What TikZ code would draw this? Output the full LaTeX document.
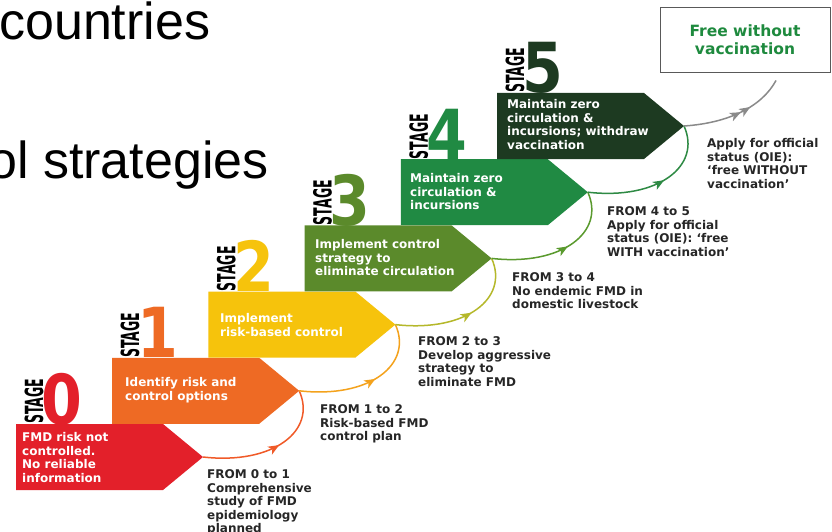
\documentclass[tikz,border=0pt]{standalone}
\usepackage{fontspec}
\setmainfont{DejaVu Sans}
\newfontfamily\slidefont{Liberation Sans}
\usetikzlibrary{calc, arrows.meta, decorations.markings}

\definecolor{stagezero}{HTML}{E3202A}
\definecolor{stageone}{HTML}{EE6A24}
\definecolor{stagetwo}{HTML}{F6C30C}
\definecolor{stagethree}{HTML}{5B8A2B}
\definecolor{stagefour}{HTML}{208A43}
\definecolor{stagefive}{HTML}{1D3A21}
\definecolor{flowzero}{HTML}{F05A28}
\definecolor{flowone}{HTML}{F4A21C}
\definecolor{flowtwo}{HTML}{B5B82A}
\definecolor{flowthree}{HTML}{5A9A2E}
\definecolor{flowfour}{HTML}{2E8A44}
\definecolor{flowfive}{HTML}{8A8A8A}
\definecolor{freegreen}{HTML}{1E8A3E}

\tikzset{
  boxtext/.style={anchor=north west, inner sep=0pt, align=left, text=white,
    font=\bfseries\fontsize{12}{13.5}\selectfont},
  fromtext/.style={boxtext, text=black!85},
  stagelabel/.style={anchor=base west, inner sep=0pt, rotate=90,
    font=\bfseries\fontsize{25}{25}\selectfont},
  stagenum/.style={anchor=base west, inner sep=0pt,
    font=\bfseries\fontsize{69}{69}\selectfont},
  flowline/.style={color=#1, line width=1.5pt, postaction={decorate},
    decoration={markings, mark=at position 0.55 with {\arrow{Stealth[length=11pt,width=9pt,inset=3pt]}}}},
}

\begin{document}
\begin{tikzpicture}[x=1pt, y=-1pt]

\newcommand{\stepx}{96.2}
\newcommand{\stepy}{66.2}
\newcommand{\bodylen}{147}
\newcommand{\arrlen}{187}
\newcommand{\boxht}{66}

\useasboundingbox (0,0) rectangle (832,532);
\fill [white] (0,0) rectangle (832,532);

% slide text cut by the picture
\node [anchor=base west, inner sep=0pt, font=\slidefont\fontsize{52}{52}\selectfont] (head) at (-1,40) {countries};
\node [anchor=base west, inner sep=0pt, font=\slidefont\fontsize{52}{52}\selectfont] (sub) at (-12,178) {ol strategies};

% stage number and box
\foreach \i/\col in {0/stagezero,1/stageone,2/stagetwo,3/stagethree,4/stagefour,5/stagefive}
{
\pgfmathsetmacro{\boxl}{16+\i*\stepx}
\pgfmathsetmacro{\boxt}{424-\i*\stepy}
\node [stagelabel] (stg\i) at (\boxl+27, \boxt) {\scalebox{0.5}[1]{STAGE}};
\node [stagenum, text=\col] (num\i) at (\boxl+25, \boxt) {\scalebox{0.85}[1]{\i}};
\coordinate (tip\i) at (\boxl+\arrlen, \boxt+\boxht/2);
\fill [\col] (\boxl,\boxt) -- ++(\bodylen,0) -- (tip\i) -- (\boxl+\bodylen,\boxt+\boxht) -- (\boxl,\boxt+\boxht) -- cycle;
}

\node [boxtext] (box0) at (22,432.6) {FMD risk not\\controlled.\\No reliable\\information};
\node [boxtext] (box1) at (125,377.6) {Identify risk and\\control options};
\node [boxtext] (box2) at (220,313.6) {Implement\\risk-based control};
\node [boxtext] (box3) at (315,239.6) {Implement control\\strategy to\\eliminate circulation};
\node [boxtext] (box4) at (410,173.6) {Maintain zero\\circulation \&\\incursions};
\node [boxtext] (box5) at (507,99.6) {Maintain zero\\circulation \&\\incursions; withdraw\\vaccination};

\node [fromtext] (from0) at (207,469.6) {FROM 0 to 1\\Comprehensive\\study of FMD\\epidemiology\\planned};
\node [fromtext] (from1) at (320,404.6) {FROM 1 to 2\\Risk-based FMD\\control plan};
\node [fromtext] (from2) at (418,336.6) {FROM 2 to 3\\Develop aggressive\\strategy to\\eliminate FMD};
\node [fromtext] (from3) at (512,272.6) {FROM 3 to 4\\No endemic FMD in\\domestic livestock};
\node [fromtext] (from4) at (607,206.6) {FROM 4 to 5\\Apply for official\\status (OIE): ‘free\\WITH vaccination’};
\node [fromtext] (from5) at (707,138.6) {Apply for official\\status (OIE):\\‘free WITHOUT\\vaccination’};

\node [draw=black!65, line width=0.9pt, minimum width=170, minimum height=65, inner sep=0pt,
  align=center, text=freegreen, font=\bfseries\fontsize{15.5}{18}\selectfont] (free) at (745,39.5) {Free without\\vaccination};
\coordinate (freeend) at ($(free.south)+(31,8)$);

% stage to stage
\draw [flowline=flowzero] (tip0) .. controls +(70,8) and +(18,40) .. (tip1);
\draw [flowline=flowone] (tip1) .. controls +(70,8) and +(18,40) .. (tip2);
\draw [flowline=flowtwo] (tip2) .. controls +(70,8) and +(18,40) .. (tip3);
\draw [flowline=flowthree] (tip3) .. controls +(70,8) and +(18,40) .. (tip4);
\draw [flowline=flowfour] (tip4) .. controls +(70,8) and +(18,40) .. (tip5);
\draw [flowline=flowfive, decoration={markings, mark=at position 0.65 with {\arrow{Stealth[length=11pt,width=9pt,inset=3pt]}}}]
  (tip5) .. controls +(45,-3) and +(-14,26) .. (freeend);

\end{tikzpicture}
\end{document}
